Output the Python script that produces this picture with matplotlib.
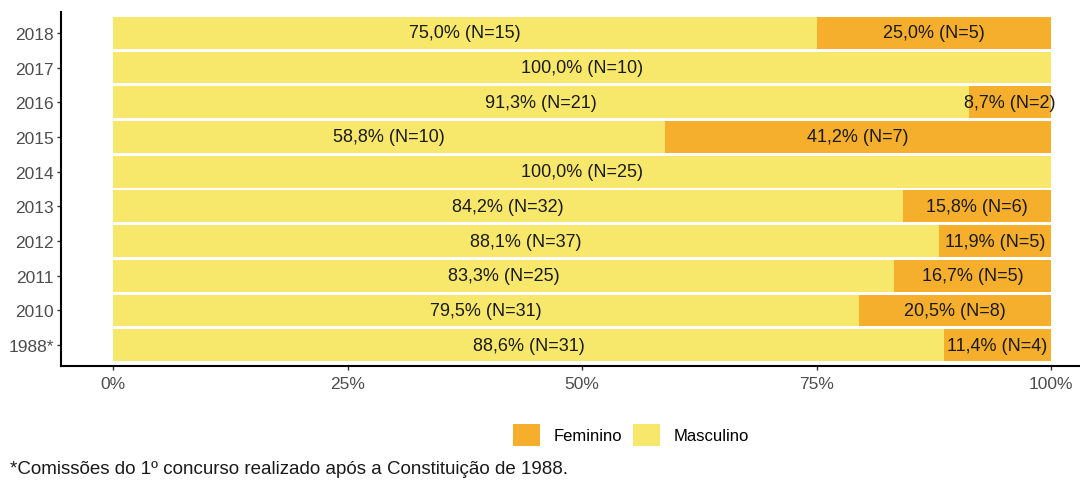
import matplotlib
matplotlib.use("Agg")
import matplotlib.pyplot as plt
from matplotlib.patches import Patch

plt.rcParams['font.family'] = ['Liberation Sans', 'DejaVu Sans']

years = ["1988*", "2010", "2011", "2012", "2013", "2014", "2015", "2016", "2017", "2018"]
masc_n = [31, 31, 25, 37, 32, 25, 10, 21, 10, 15]
fem_n = [4, 8, 5, 5, 6, 0, 7, 2, 0, 5]
masc_pct = [88.6, 79.5, 83.3, 88.1, 84.2, 100.0, 58.8, 91.3, 100.0, 75.0]
fem_pct = [11.4, 20.5, 16.7, 11.9, 15.8, 0.0, 41.2, 8.7, 0.0, 25.0]
xticks = [0, 0.25, 0.5, 0.75, 1.0]
xticklabels = ["0%", "25%", "50%", "75%", "100%"]

c_masc = "#F7E86C"
c_fem = "#F6AE2D"
txt = "#1a1a1a"

W, H = 1080, 485
fig = plt.figure(figsize=(W / 100, H / 100), dpi=100)
left_px, right_px = 61, 1080
top_px, bot_px = 13, 367
ax = fig.add_axes([left_px / W, 1 - bot_px / H, (right_px - left_px) / W, (bot_px - top_px) / H])

def fmt(p, n):
    return f"{p:.1f}".replace(".", ",") + f"% (N={n})"

ypos = list(range(len(years)))
mp = [p / 100 for p in masc_pct]
fp = [p / 100 for p in fem_pct]
ax.barh(ypos, mp, height=0.92, color=c_masc, left=0)
ax.barh(ypos, fp, height=0.92, color=c_fem, left=mp)

for i in ypos:
    ax.text(mp[i] / 2, i, fmt(masc_pct[i], masc_n[i]), ha="center", va="center",
            fontsize=13, color=txt)
    if fem_n[i] > 0:
        ax.text(mp[i] + fp[i] / 2, i, fmt(fem_pct[i], fem_n[i]), ha="center", va="center",
                fontsize=13, color=txt)

x0 = -(113 - left_px) / 938
x1 = (right_px - 113) / 938
ax.set_xlim(x0, x1)
ax.set_ylim(-0.6, len(years) - 0.4)
ax.set_yticks(ypos)
ax.set_yticklabels(years)
ax.set_xticks(xticks)
ax.set_xticklabels(xticklabels)
ax.tick_params(axis="both", colors="#333333", labelcolor="#4d4d4d", labelsize=12.5, length=3, width=1)
ax.tick_params(axis="x", pad=4)
ax.tick_params(axis="y", pad=2)
for s in ["top", "right"]:
    ax.spines[s].set_visible(False)
for s in ["left", "bottom"]:
    ax.spines[s].set_linewidth(1.5)
    ax.spines[s].set_color("black")

handles = [Patch(facecolor=c_fem, label="Feminino"), Patch(facecolor=c_masc, label="Masculino")]
fig.legend(handles=handles, loc="center", bbox_to_anchor=(631 / W, 1 - 436 / H), ncol=2,
           frameon=False, fontsize=12, handlelength=1.6, handleheight=1.6,
           columnspacing=0.7, handletextpad=0.8, borderpad=0)

fig.text(10 / W, 1 - 470 / H, "*Comissões do 1º concurso realizado após a Constituição de 1988.",
         ha="left", va="center", fontsize=13.5, color="#1a1a1a")

fig.savefig("out.png", dpi=100)
